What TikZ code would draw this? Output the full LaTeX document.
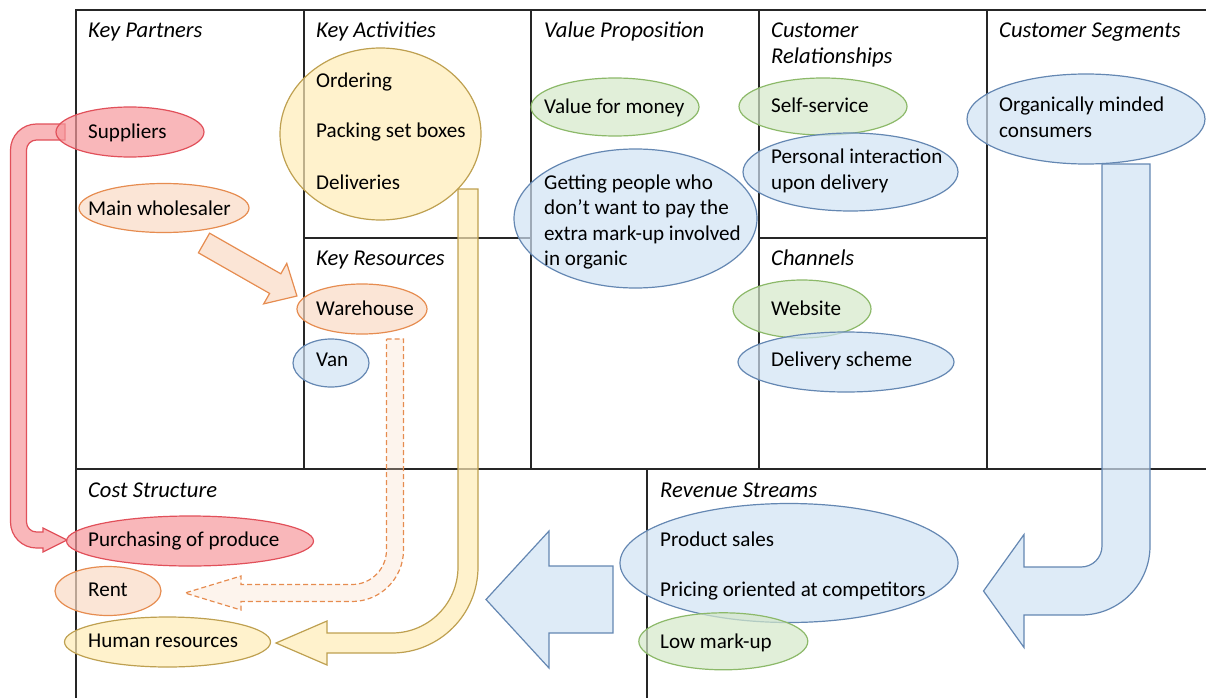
\documentclass[tikz,border=0pt]{standalone}
\usepackage{fontspec}
\setmainfont{Carlito}
\usepackage{tikz}
\usetikzlibrary{shapes.geometric}
\definecolor{mblue}{RGB}{208,226,244}
\definecolor{mgreen}{RGB}{212,232,201}
\definecolor{myellow}{RGB}{255,236,182}
\definecolor{morange}{RGB}{249,218,196}
\definecolor{mred}{RGB}{246,152,156}
\definecolor{dblue}{RGB}{100,135,178}
\definecolor{dgreen}{RGB}{140,185,105}
\definecolor{dyellow}{RGB}{190,160,80}
\definecolor{dorange}{RGB}{230,140,80}
\definecolor{dred}{RGB}{225,80,90}
\tikzset{canvasline/.style = {line width=1.5pt, black!85}}
\tikzset{blob/.style = {ellipse, draw, line width=1.2pt, inner sep=0pt, fill opacity=0.7}}
\tikzset{block/.style = {line width=1.2pt, line join=miter, fill opacity=0.7}}
\tikzset{item/.style = {anchor=base west, inner sep=0pt, align=left,
                        font=\fontsize{21.1}{25.5}\selectfont}}
\tikzset{heading/.style = {item, font=\fontsize{22.6}{26.5}\selectfont\itshape}}

\begin{document}
\begin{tikzpicture}[x=1pt, y=-1pt]
    \useasboundingbox (0,0) rectangle (1206,698);
    % canvas
    \draw [canvasline] (1206,10) -- (76,10) -- (76,698);
    \foreach \x in {304, 531, 759, 987}
        \draw [canvasline] (\x,10) -- (\x,469);
    \draw [canvasline] (76,469) -- (1206,469);
    \draw [canvasline] (304,238) -- (531,238);
    \draw [canvasline] (759,238) -- (987,238);
    \draw [canvasline] (647,469) -- (647,698);

    % block arrows
    \filldraw [block, draw=dred, fill=mred] (65,124) -- (36.5,124) arc [start angle=270, end angle=180, radius=26]
        -- (10.5,522) arc [start angle=180, end angle=90, radius=26] -- (43,548) -- (43,552) -- (67,540)
        -- (43,528) -- (43,532) -- (36.5,532) arc [start angle=90, end angle=180, radius=10]
        -- (26.5,150) arc [start angle=180, end angle=270, radius=10] -- (65,140) -- cycle;
    \filldraw [block, draw=dorange, fill=morange, shift={(204,243)}, rotate=-29.7]
        (0,-11.3) -- (82,-11.3) -- (82,-23.3) -- (107,0) -- (82,23.3) -- (82,11.3) -- (0,11.3) -- cycle;
    \filldraw [block, draw=dorange, fill=morange, fill opacity=0.3, dash pattern=on 5pt off 3pt]
        (386.5,339) -- (403.5,339) -- (403.5,550) arc [start angle=0, end angle=90, radius=51.5]
        -- (241,601.5) -- (241,610) -- (185,593) -- (241,576) -- (241,584.5) -- (352,584.5)
        arc [start angle=90, end angle=0, radius=34.5] -- cycle;
    \filldraw [block, draw=dyellow, fill=myellow] (458,189) -- (478,189) -- (478,567)
        arc [start angle=0, end angle=90, radius=86] -- (327,653) -- (327,665) -- (276,643)
        -- (327,621) -- (327,633) -- (392,633) arc [start angle=90, end angle=0, radius=66] -- cycle;
    \filldraw [block, draw=dblue, fill=mblue] (613,566) -- (613,633) -- (549,633) -- (549,668)
        -- (486,599.5) -- (549,531) -- (549,566) -- cycle;
    \filldraw [block, draw=dblue, fill=mblue] (1102,164) -- (1150,164) -- (1150,546)
        arc [start angle=0, end angle=90, radius=69] -- (1024,615) -- (1024,647.5) -- (983.5,591)
        -- (1024,534.5) -- (1024,567) -- (1081,567) arc [start angle=90, end angle=0, radius=21] -- cycle;

    % ellipses
    \node [blob, draw=dred, fill=mred, minimum width=148, minimum height=50] (sup) at (130,132) {};
    \node [blob, draw=dorange, fill=morange, minimum width=170, minimum height=49] (whole) at (164,208) {};
    \node [blob, draw=dyellow, fill=myellow, minimum width=201, minimum height=172] (act) at (380.5,134) {};
    \node [blob, draw=dgreen, fill=mgreen, minimum width=168, minimum height=58] (vfm) at (615,107) {};
    \node [blob, draw=dblue, fill=mblue, minimum width=243, minimum height=139] (getting) at (635.5,218.5) {};
    \node [blob, draw=dgreen, fill=mgreen, minimum width=168, minimum height=57] (self) at (823,106.5) {};
    \node [blob, draw=dblue, fill=mblue, minimum width=215, minimum height=78] (personal) at (850.5,172) {};
    \node [blob, draw=dblue, fill=mblue, minimum width=238, minimum height=90] (seg) at (1086,119) {};
    \node [blob, draw=dorange, fill=morange, minimum width=130, minimum height=50] (ware) at (362,309) {};
    \node [blob, draw=dblue, fill=mblue, minimum width=76, minimum height=48] (van) at (331,363) {};
    \node [blob, draw=dgreen, fill=mgreen, minimum width=138, minimum height=58] (web) at (802,309) {};
    \node [blob, draw=dblue, fill=mblue, minimum width=216, minimum height=60] (scheme) at (846,362) {};
    \node [blob, draw=dred, fill=mred, minimum width=247, minimum height=50] (purch) at (190,541) {};
    \node [blob, draw=dorange, fill=morange, minimum width=106, minimum height=49] (rent) at (108,591) {};
    \node [blob, draw=dyellow, fill=myellow, minimum width=206, minimum height=50] (hr) at (167.5,642) {};
    \node [blob, draw=dblue, fill=mblue, minimum width=338, minimum height=119] (sales) at (789,563) {};
    \node [blob, draw=dgreen, fill=mgreen, minimum width=169, minimum height=57] (low) at (723.3,641.3) {};

    % headings
    \node [heading] (kp) at (88,37.5) {Key Partners};
    \node [heading] (ka) at (316,37.5) {Key Activities};
    \node [heading] (vp) at (544,37.5) {Value Proposition};
    \node [heading] (cr) at (771,64) {Customer\\Relationships};
    \node [heading] (cs) at (999,37.5) {Customer Segments};
    \node [heading] (kr) at (316,265) {Key Resources};
    \node [heading] (ch) at (771,265) {Channels};
    \node [heading] (cost) at (88,497.3) {Cost Structure};
    \node [heading] (rev) at (660,497.3) {Revenue Streams};

    % texts
    \node [item] at (88,138.3) {Suppliers};
    \node [item] at (88,215) {Main wholesaler};
    \node [item] at (316,87.3) {Ordering};
    \node [item] at (316,137.3) {Packing set boxes};
    \node [item] at (316,189) {Deliveries};
    \node [item] at (544,113.3) {Value for money};
    \node [item] at (544,265.7) {Getting people who\\don’t want to pay the\\extra mark-up involved\\in organic};
    \node [item] at (771,112.7) {Self-service};
    \node [item] at (771,189.3) {Personal interaction\\upon delivery};
    \node [item] at (999,137.3) {Organically minded\\consumers};
    \node [item] at (316,315) {Warehouse};
    \node [item] at (316,366) {Van};
    \node [item] at (771,315) {Website};
    \node [item] at (771,366) {Delivery scheme};
    \node [item] at (88,546) {Purchasing of produce};
    \node [item] at (88,596.7) {Rent};
    \node [item] at (88,647.7) {Human resources};
    \node [item] at (660,546) {Product sales};
    \node [item] at (660,596.7) {Pricing oriented at competitors};
    \node [item] at (660,648.3) {Low mark-up};
\end{tikzpicture}
\end{document}
